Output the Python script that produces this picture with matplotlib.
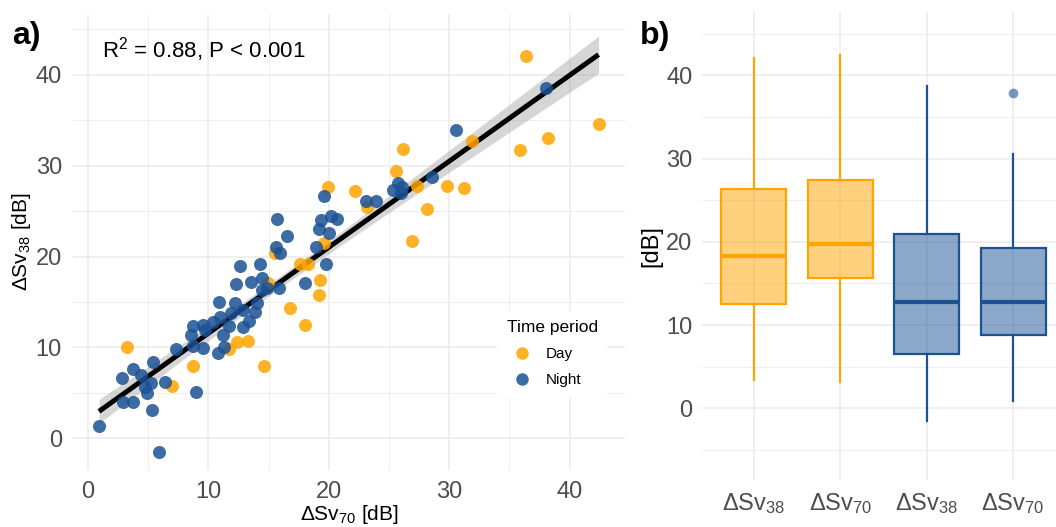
"""Panel a: dSv38 vs dSv70 scatter with fit, panel b: boxplots by time period"""
import numpy as np
import matplotlib
matplotlib.use("Agg")
import matplotlib.pyplot as plt
from matplotlib.lines import Line2D

plt.rcParams['font.family'] = ['Liberation Sans', 'DejaVu Sans']
plt.rcParams['mathtext.fontset'] = 'custom'
plt.rcParams['mathtext.rm'] = 'Liberation Sans'
plt.rcParams['mathtext.it'] = 'Liberation Sans:italic'

# --- data ---
day_sv70 = [36.35, 35.85, 38.17, 42.41, 31.87, 26.14, 25.56, 27.30, 29.79, 31.20,
            28.13, 26.89, 23.15, 22.16, 19.92, 19.59, 17.59, 18.26, 19.25, 19.17,
            15.52, 14.94, 16.76, 18.01, 12.37, 13.28, 11.70, 8.71, 14.61, 6.97, 3.24]
day_sv38 = [42.09, 31.74, 33.06, 34.60, 32.73, 31.85, 29.42, 27.77, 27.77, 27.55,
            25.23, 21.71, 25.45, 27.22, 27.66, 21.49, 19.17, 19.17, 17.41, 15.76,
            20.39, 17.08, 14.33, 12.45, 10.58, 10.69, 9.81, 7.93, 7.93, 5.73, 10.03]

night_sv70 = [0.91, 5.89, 2.82, 3.73, 4.40, 5.39, 5.23, 4.73, 4.90, 3.73,
              2.90, 5.31, 6.39, 8.96, 7.30, 8.71, 9.54, 8.55, 8.71, 9.54,
              10.37, 9.71, 10.87, 10.95, 10.79, 11.20, 11.29, 11.70, 12.20, 12.28,
              12.61, 12.86, 12.86, 13.36, 13.53, 13.86, 14.02, 14.27, 14.44, 14.44,
              14.85, 15.60, 15.93, 15.85, 18.01, 18.92, 19.75, 19.59, 19.34, 20.17,
              20.66, 19.17, 20.00, 16.51, 23.07, 23.90, 25.31, 25.73, 26.06, 25.98,
              28.55, 30.54, 38.01, 11.87, 15.68]
night_sv38 = [1.32, -1.54, 6.61, 7.60, 6.94, 8.37, 6.06, 5.62, 4.96, 3.97,
              3.97, 3.09, 6.17, 5.07, 9.81, 10.14, 9.92, 11.35, 12.34, 12.45,
              12.78, 11.90, 14.99, 13.33, 9.37, 11.35, 10.03, 12.34, 14.88, 16.97,
              18.95, 14.10, 12.23, 12.89, 17.19, 13.88, 14.88, 19.17, 17.63, 16.31,
              16.53, 21.05, 20.39, 16.53, 17.08, 21.05, 19.17, 26.67, 24.02, 24.46,
              24.13, 23.03, 22.59, 22.26, 26.12, 26.12, 27.33, 28.10, 27.66, 27.00,
              28.76, 33.94, 38.57, 13.77, 24.13]

box_labels = ['ΔSv$_{38}$', 'ΔSv$_{70}$', 'ΔSv$_{38}$', 'ΔSv$_{70}$']
box_q1 = [12.5, 15.6, 6.5, 8.8]
box_med = [18.3, 19.7, 12.8, 12.8]
box_q3 = [26.3, 27.4, 21.0, 19.3]
box_lo = [3.4, 3.2, -1.5, 0.9]
box_hi = [42.1, 42.4, 38.7, 30.5]
box_out = [[], [], [], [37.9]]

day_col = '#FFA500'
night_col = '#1B5294'
grid_col = '#EBEBEB'
tick_col = '#4D4D4D'

fig = plt.figure(figsize=(10.56, 5.27), dpi=100)
fig.patch.set_color('white')


def style_axes(ax):
    for s in ax.spines.values():
        s.set_visible(False)
    ax.tick_params(which='both', length=0, labelsize=17, labelcolor=tick_col)
    ax.grid(True, which='major', color=grid_col, lw=1.1)
    ax.grid(True, which='minor', color=grid_col, lw=0.6)
    ax.set_axisbelow(True)


# --- panel a ---
ax = fig.add_axes([0.0691, 0.1082, 0.5227, 0.8653])
style_axes(ax)

x_all = np.array(day_sv70 + night_sv70)
y_all = np.array(day_sv38 + night_sv38)
b, a = np.polyfit(x_all, y_all, 1)
n = len(x_all)
resid = y_all - (a + b * x_all)
s = np.sqrt(np.sum(resid ** 2) / (n - 2))
sxx = np.sum((x_all - x_all.mean()) ** 2)
xs = np.linspace(x_all.min(), x_all.max(), 100)
fit = a + b * xs
se = s * np.sqrt(1 / n + (xs - x_all.mean()) ** 2 / sxx)
ax.fill_between(xs, fit - 1.985 * se, fit + 1.985 * se, color='#999999', alpha=0.4, lw=0, zorder=2)
ax.plot(xs, fit, color='black', lw=3.6, zorder=3, solid_capstyle='butt')

ax.scatter(day_sv70, day_sv38, s=88, color=day_col, alpha=0.85, lw=0, zorder=4)
ax.scatter(night_sv70, night_sv38, s=88, color=night_col, alpha=0.85, lw=0, zorder=4)

ax.set_xlim(-1.25, 44.6)
ax.set_ylim(-3.5, 46.7)
ax.set_xticks([0, 10, 20, 30, 40])
ax.set_xticks([5, 15, 25, 35], minor=True)
ax.set_yticks([0, 10, 20, 30, 40])
ax.set_yticks([5, 15, 25, 35, 45], minor=True)
ax.tick_params(axis='x', which='both', pad=8)
ax.tick_params(axis='y', which='both', pad=8)
ax.set_xlabel('ΔSv$_{70}$ [dB]', fontsize=15, labelpad=0)
ax.set_ylabel('ΔSv$_{38}$ [dB]', fontsize=15, labelpad=2)
ax.text(1.2, 42.8, 'R$^{2}$ = 0.88, P < 0.001', fontsize=16, va='center', ha='left')

handles = [Line2D([], [], marker='o', ls='', color=day_col, alpha=0.85, markersize=9, markeredgewidth=0),
           Line2D([], [], marker='o', ls='', color=night_col, alpha=0.85, markersize=9, markeredgewidth=0)]
leg = ax.legend(handles, ['Day', 'Night'], title='Time period', loc='center',
                bbox_to_anchor=(0.868, 0.255), fontsize=11, title_fontsize=12.5,
                frameon=True, facecolor='white', edgecolor='none', framealpha=1,
                handletextpad=0.6, labelspacing=0.8, alignment='left', borderpad=0.6)
leg.set_zorder(5)

# --- panel b ---
bx = fig.add_axes([0.6648, 0.0892, 0.3437, 0.888])
style_axes(bx)

stats = []
for i in range(4):
    stats.append(dict(q1=box_q1[i], med=box_med[i], q3=box_q3[i],
                      whislo=box_lo[i], whishi=box_hi[i], fliers=box_out[i]))
positions = [1, 2, 3, 4]
colors = [day_col, day_col, night_col, night_col]
for i in range(4):
    c = colors[i]
    bx.bxp([stats[i]], positions=[positions[i]], widths=0.75, patch_artist=True,
           showcaps=False,
           boxprops=dict(facecolor=c, edgecolor=c, lw=1.6, alpha=None),
           medianprops=dict(color=c, lw=3),
           whiskerprops=dict(color=c, lw=1.6),
           flierprops=dict(marker='o', markerfacecolor=c, markeredgecolor='none',
                           markersize=7, alpha=0.6))
for p in bx.patches:
    fc = p.get_facecolor()
    p.set_facecolor((fc[0], fc[1], fc[2], 0.5))

bx.set_xlim(0.4, 4.6)
bx.set_ylim(-8.6, 47.6)
bx.set_xticks(positions)
bx.set_xticklabels(box_labels)
bx.set_yticks([0, 10, 20, 30, 40])
bx.set_yticks([-5, 5, 15, 25, 35, 45], minor=True)
bx.grid(False, axis='x', which='minor')
bx.tick_params(axis='x', which='both', pad=8)
bx.tick_params(axis='y', which='both', pad=7)
bx.set_ylabel('[dB]', fontsize=17, labelpad=3)

fig.text(12 / 1056, 1 - 36 / 527, 'a)', fontsize=23, fontweight='bold', va='center', ha='left')
fig.text(640 / 1056, 1 - 36 / 527, 'b)', fontsize=23, fontweight='bold', va='center', ha='left')

plt.savefig('out.png', dpi=100)
